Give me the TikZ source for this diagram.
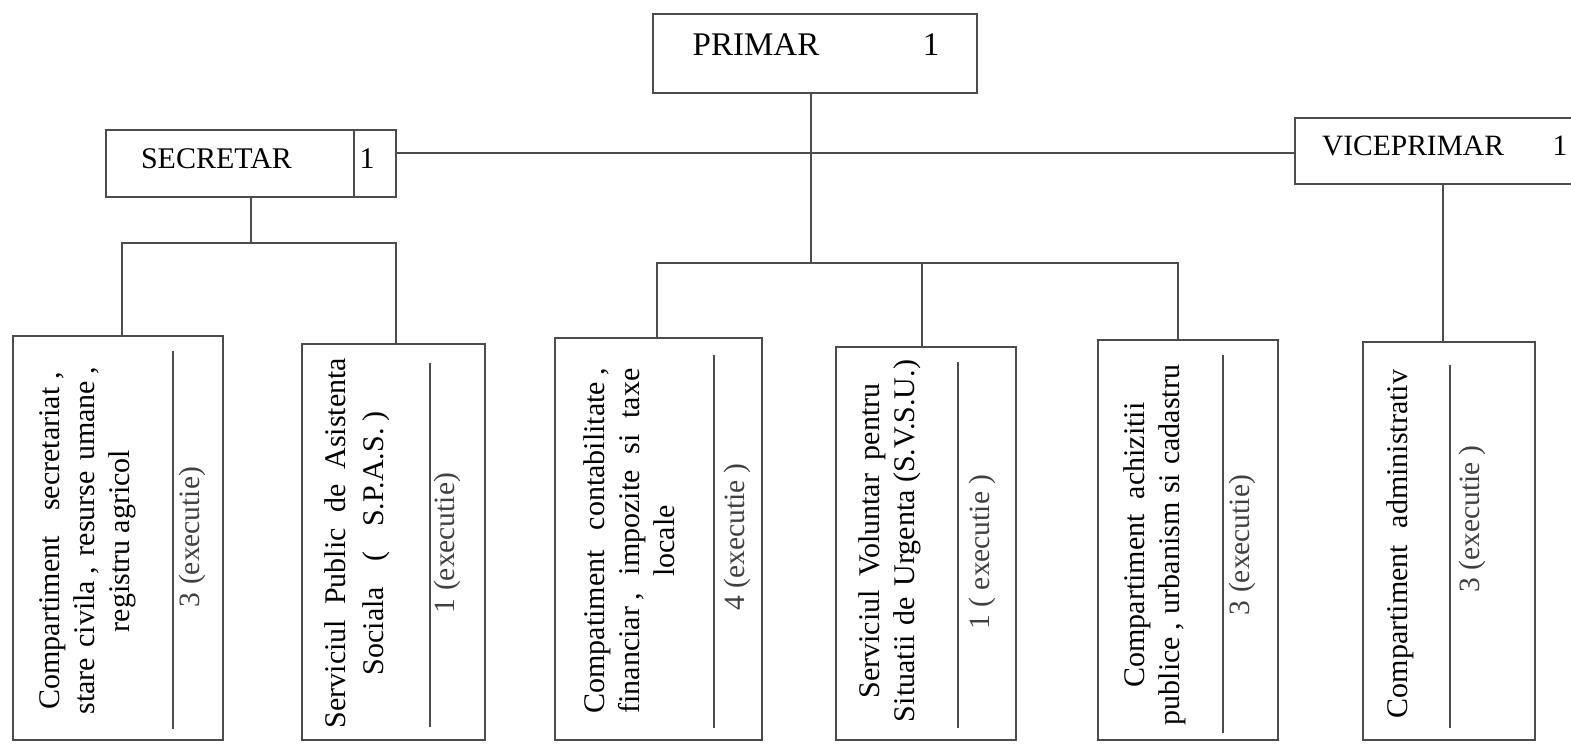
\documentclass[tikz,border=0pt]{standalone}
\usepackage{fontspec}
\setmainfont{Liberation Serif}
\begin{document}
\begin{tikzpicture}[x=1pt,y=-1pt,
  box/.style={draw=black!70, line width=1.3pt, rectangle, inner sep=0pt},
  conn/.style={draw=black!70, line width=1.3pt},
  rot/.style={rotate=90, align=center, font=\fontsize{30}{35}\selectfont, inner sep=0pt},
  cnt/.style={rotate=90, font=\fontsize{29.5}{35}\selectfont, text=black!75, inner sep=0pt},
  head/.style={font=\fontsize{30}{36}\selectfont, inner sep=0pt}]
\useasboundingbox (0,0) rectangle (1571,745);
\clip (0,0) rectangle (1571,745);

% top boxes
\node[box, minimum width=324pt, minimum height=79pt] (primar) at (815,53.5) {};
\node[head, font=\fontsize{33}{38}\selectfont] (tprimar) at (756,45) {PRIMAR};
\node[head, font=\fontsize{33}{38}\selectfont] (nprimar) at (931,45) {1};

\node[box, minimum width=290pt, minimum height=67pt] (secretar) at (251,163.5) {};
\draw[conn] (354,130) -- (354,197);
\node[head] (tsecretar) at (216.5,159) {SECRETAR};
\node[head] (nsecretar) at (367,159) {1};

\node[box, minimum width=305pt, minimum height=66pt] (vice) at (1447.5,151) {};
\node[head, font=\fontsize{29.5}{36}\selectfont] (tvice) at (1413,146) {VICEPRIMAR};
\node[head, font=\fontsize{29.5}{36}\selectfont] (nvice) at (1560,146) {1};

% bottom boxes
\node[box, minimum width=210pt, minimum height=404pt] (b1) at (118,538) {};
\node[box, minimum width=183pt, minimum height=396pt] (b2) at (393.5,542) {};
\node[box, minimum width=207pt, minimum height=402pt] (b3) at (658.5,539) {};
\node[box, minimum width=180pt, minimum height=393pt] (b4) at (926,543.5) {};
\node[box, minimum width=180pt, minimum height=400pt] (b5) at (1188,540) {};
\node[box, minimum width=172pt, minimum height=398pt] (b6) at (1449,541) {};

% inner separator lines
\draw[conn] (173,351) -- (173,729);
\draw[conn] (430,363) -- (430,727);
\draw[conn] (714,355) -- (714,728);
\draw[conn] (958,362) -- (958,728);
\draw[conn] (1223,355) -- (1223,733);
\draw[conn] (1450,365) -- (1450,728);

% texts
\node[rot] (t1) at (88,541) {\makebox[337pt][s]{Compartiment secretariat\hspace{0.25em},}\\ \makebox[347pt][s]{stare civila\hspace{0.2em}, resurse umane\hspace{0.2em},}\\ registru agricol};
\node[cnt] (c1) at (192,537) {3 (executie)};

\node[rot] (t2) at (357,543) {\makebox[370pt][s]{Serviciul Public de Asistenta}\\[3pt] \makebox[264pt][s]{Sociala ( S.P.A.S.\hspace{0.25em})}};
\node[cnt] (c2) at (447,543) {1 (executie)};

\node[rot] (t3) at (629,541) {\makebox[345pt][s]{Compatiment contabilitate\hspace{0.2em},}\\ \makebox[345pt][s]{financiar\hspace{0.2em}, impozite si taxe}\\ locale};
\node[cnt] (c3) at (737,537) {4 (executie )};

\node[rot] (t4) at (890,541) {\makebox[315pt][s]{Serviciul Voluntar pentru}\\ \makebox[362pt][s]{Situatii de Urgenta\hspace{0.25em}(S.V.S.U.)}};
\node[cnt] (c4) at (982,552) {1 ( executie )};

\node[rot] (t5) at (1155,545) {\makebox[285pt][s]{Compartiment achizitii}\\ \makebox[360pt][s]{publice\hspace{0.2em}, urbanism si cadastru}};
\node[cnt] (c5) at (1242,545) {3 (executie)};

\node[rot] (t6) at (1400,544) {\makebox[348pt][s]{Compartiment administrativ}};
\node[cnt] (c6) at (1472,519) {3 (executie )};

% connectors
\coordinate (pb) at (811,263);
\coordinate (h) at (811,153);
\coordinate (bl) at (657,263);
\coordinate (bm) at (922,263);
\coordinate (br) at (1178,263);
\coordinate (sb) at (251,243);
\coordinate (sl) at (122,243);
\coordinate (sr) at (396,243);
\coordinate (vb) at (1443,184);

\draw[conn] (primar.south -| pb) -- (pb);
\draw[conn] (secretar.east |- h) -- (vice.west |- h);
\draw[conn] (bl |- b3.north) -- (bl) -- (br) -- (br |- b5.north);
\draw[conn] (bm) -- (bm |- b4.north);
\draw[conn] (secretar.south) -- (sb);
\draw[conn] (sl |- b1.north) -- (sl) -- (sr) -- (sr |- b2.north);
\draw[conn] (vice.south -| vb) -- (vb |- b6.north);
\end{tikzpicture}
\end{document}
